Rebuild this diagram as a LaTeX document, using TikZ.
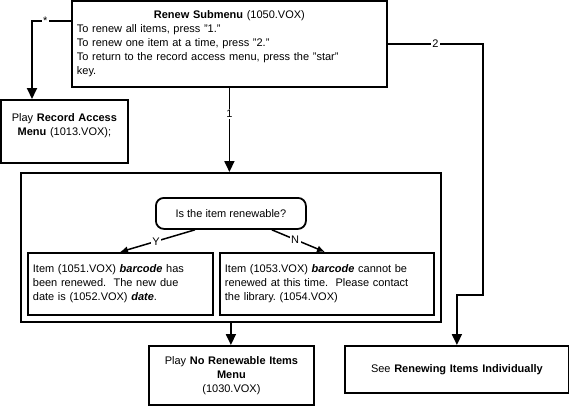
\documentclass[tikz,border=0pt]{standalone}
\usepackage{fontspec}
\setmainfont{Liberation Sans}
\frenchspacing
\usetikzlibrary{shapes,arrows.meta,positioning,calc}
\tikzstyle{block} = [rectangle, draw, line width=1.8pt, inner sep=5pt,
    anchor=north west, font=\fontsize{11}{14}\selectfont]
\tikzstyle{decision} = [rectangle, draw, line width=1.8pt, rounded corners=8pt,
    anchor=north west, font=\fontsize{11}{14}\selectfont]
\tikzstyle{line} = [draw, line width=1.8pt, -{Triangle[width=10pt,length=11pt]}]
\tikzstyle{branch} = [draw, line width=1.5pt, -{Latex[width=7pt,length=8pt]}]
\tikzstyle{tag} = [fill=white, inner sep=1.5pt, font=\fontsize{11}{14}\selectfont]

\begin{document}
\begin{tikzpicture}[x=1pt, y=-1pt]
  \useasboundingbox (0,0) rectangle (569,405);
  % Place nodes
  \node [block, text width=305pt, minimum height=86pt, align=left] (submenu) at (71,0)
        {\makebox[\linewidth][c]{\textbf{Renew Submenu} (1050.VOX)}\\
         To renew all items, press "1."\\
         To renew one item at a time, press "2."\\
         To return to the record access menu, press the "star"\\
         key.};

  \node [block, text width=117pt, minimum height=63pt, align=center] (access) at (0,99)
        {Play \textbf{Record Access}\\ \textbf{Menu} (1013.VOX);\\ ~};

  \node [block, minimum width=420pt, minimum height=149pt, inner sep=0pt] (container) at (20,172) {};

  \node [decision, minimum width=150pt, minimum height=31pt] (renewable) at (155,197)
        {Is the item renewable?};

  \node [block, text width=175pt, minimum height=62pt, align=left] (renewed) at (27,252)
        {Item (1051.VOX) \textbf{\textit{barcode}} has\\
         been renewed.\ \ The new due\\
         date is (1052.VOX) \textbf{\textit{date}}.};

  \node [block, text width=204pt, minimum height=62pt, align=left] (notrenewed) at (219,252)
        {Item (1053.VOX) \textbf{\textit{barcode}} cannot be\\
         renewed at this time.\ \ Please contact\\
         the library. (1054.VOX)};

  \node [block, text width=155pt, minimum height=59pt, align=center] (norenew) at (148,345)
        {Play \textbf{No Renewable Items}\\ \textbf{Menu}\\ (1030.VOX)};

  \node [block, text width=214pt, minimum height=47pt, align=center] (individually) at (344,345)
        {See \textbf{Renewing Items Individually}};

  \coordinate (stardrop) at ([xshift=32pt]access.north west);
  \coordinate (turn) at (483,295);

  % Connectors
  \path [line] ([yshift=-21pt]submenu.north west) -| node [tag, pos=0.33] {*} (stardrop);
  \path [line] (submenu.south) -- node [tag, pos=0.31] {1} (submenu.south |- container.north);
  \path [line] (submenu.east) -| node [tag, pos=0.25] {2} (turn) -| (individually.north);
  \path [branch] ([xshift=40pt]renewable.south west) -- node [tag, pos=0.52] {Y}
        ([xshift=93pt]renewed.north west);
  \path [branch] ([xshift=-35pt]renewable.south east) -- node [tag, pos=0.44] {N}
        ([xshift=106pt]notrenewed.north west);
  \path [line] (container.south) -- (container.south |- norenew.north);
\end{tikzpicture}
\end{document}
